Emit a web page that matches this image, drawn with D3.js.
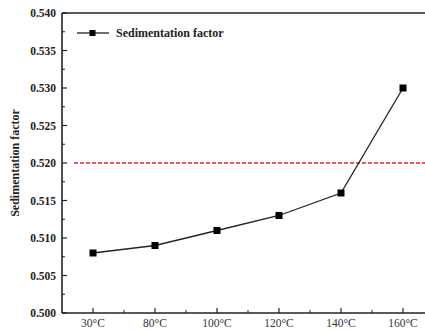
<!DOCTYPE html>
<html>
<head>
<meta charset="utf-8">
<script src="https://cdn.jsdelivr.net/npm/d3@7"></script>
<style>
  body { margin: 0; background: #fff; }
  svg { display: block; font-family: 'Liberation Serif', 'Times New Roman', serif; }
</style>
</head>
<body>
<svg id="chart" width="425" height="330"></svg>
<script>
const categories = ['30°C', '80°C', '100°C', '120°C', '140°C', '160°C']
const sedimentation = [0.508, 0.509, 0.511, 0.513, 0.516, 0.530]
const thresholdValue = 0.520
const yTicks = [0.500, 0.505, 0.510, 0.515, 0.520, 0.525, 0.530, 0.535, 0.540]
const seriesName = 'Sedimentation factor'

const svg = d3.select('#chart')
const margin = { left: 62, top: 13, bottom: 17 }
const step = 62
const plotRight = margin.left + step * categories.length
const plotBottom = 330 - margin.bottom

const x = d3.scalePoint()
    .domain(categories)
    .range([margin.left + step / 2, plotRight - step / 2])

const y = d3.scaleLinear()
    .domain([0.500, 0.540])
    .range([plotBottom, margin.top])

// frame: left, bottom, top (right side runs off the picture)
const frame = svg.append('g').attr('stroke', '#222').attr('stroke-width', 1.6).attr('fill', 'none')
frame.append('line').attr('x1', margin.left).attr('x2', margin.left).attr('y1', margin.top).attr('y2', plotBottom)
frame.append('line').attr('x1', margin.left).attr('x2', plotRight).attr('y1', plotBottom).attr('y2', plotBottom)
frame.append('line').attr('x1', margin.left).attr('x2', plotRight).attr('y1', margin.top).attr('y2', margin.top)

// y ticks (inward) + minor ticks
const yMinor = d3.range(0, yTicks.length - 1).map(i => (yTicks[i] + yTicks[i + 1]) / 2)
const gy = svg.append('g')
gy.selectAll('line.major').data(yTicks).join('line')
    .attr('class', 'major')
    .attr('x1', margin.left).attr('x2', margin.left + 5)
    .attr('y1', d => y(d)).attr('y2', d => y(d))
    .attr('stroke', '#222').attr('stroke-width', 1.2)
gy.selectAll('line.minor').data(yMinor).join('line')
    .attr('class', 'minor')
    .attr('x1', margin.left).attr('x2', margin.left + 3)
    .attr('y1', d => y(d)).attr('y2', d => y(d))
    .attr('stroke', '#222').attr('stroke-width', 1)
gy.selectAll('text').data(yTicks).join('text')
    .attr('x', margin.left - 6)
    .attr('y', d => y(d))
    .attr('dy', '0.35em')
    .attr('text-anchor', 'end')
    .attr('font-size', 11.5)
    .attr('font-weight', 'bold')
    .attr('fill', '#222')
    .text(d => d3.format('.3f')(d))

// x ticks (inward) + minor ticks between categories
const xMinor = d3.range(0, categories.length).map(i => margin.left + step * (i + 1))
const gx = svg.append('g')
gx.selectAll('line.major').data(categories).join('line')
    .attr('class', 'major')
    .attr('x1', d => x(d)).attr('x2', d => x(d))
    .attr('y1', plotBottom).attr('y2', plotBottom - 5)
    .attr('stroke', '#222').attr('stroke-width', 1.2)
gx.selectAll('line.minor').data(xMinor).join('line')
    .attr('class', 'minor')
    .attr('x1', d => d).attr('x2', d => d)
    .attr('y1', plotBottom).attr('y2', plotBottom - 3)
    .attr('stroke', '#222').attr('stroke-width', 1)
gx.selectAll('text').data(categories).join('text')
    .attr('x', d => x(d))
    .attr('y', plotBottom + 14)
    .attr('text-anchor', 'middle')
    .attr('font-size', 11.5)
    .attr('fill', '#333')
    .text(d => d)

// y axis title
svg.append('text')
    .attr('transform', `translate(19,${y(0.520)}) rotate(-90)`)
    .attr('text-anchor', 'middle')
    .attr('font-size', 12)
    .attr('font-weight', 'bold')
    .attr('fill', '#222')
    .text(seriesName)

// threshold dashed line
svg.append('line')
    .attr('x1', margin.left + 12).attr('x2', plotRight)
    .attr('y1', y(thresholdValue)).attr('y2', y(thresholdValue))
    .attr('stroke', '#d62728').attr('stroke-width', 1.5)
    .attr('stroke-dasharray', '4,2')

// series line + square markers
const line = d3.line()
    .x((d, i) => x(categories[i]))
    .y(d => y(d))

svg.append('path')
    .datum(sedimentation)
    .attr('d', line)
    .attr('fill', 'none')
    .attr('stroke', '#222')
    .attr('stroke-width', 1.3)

svg.selectAll('rect.pt').data(sedimentation).join('rect')
    .attr('class', 'pt')
    .attr('x', (d, i) => x(categories[i]) - 3.5)
    .attr('y', d => y(d) - 3.5)
    .attr('width', 7).attr('height', 7)
    .attr('fill', '#000')

// legend
const legend = svg.append('g').attr('transform', 'translate(77,33)')
legend.append('line').attr('x1', 0).attr('x2', 32).attr('y1', 0).attr('y2', 0)
    .attr('stroke', '#222').attr('stroke-width', 1.3)
legend.append('rect').attr('x', 12.5).attr('y', -3).attr('width', 6).attr('height', 6).attr('fill', '#000')
legend.append('text')
    .attr('x', 39).attr('y', 0).attr('dy', '0.35em')
    .attr('font-size', 12)
    .attr('font-weight', 'bold')
    .attr('fill', '#222')
    .text(seriesName)
</script>
</body>
</html>
